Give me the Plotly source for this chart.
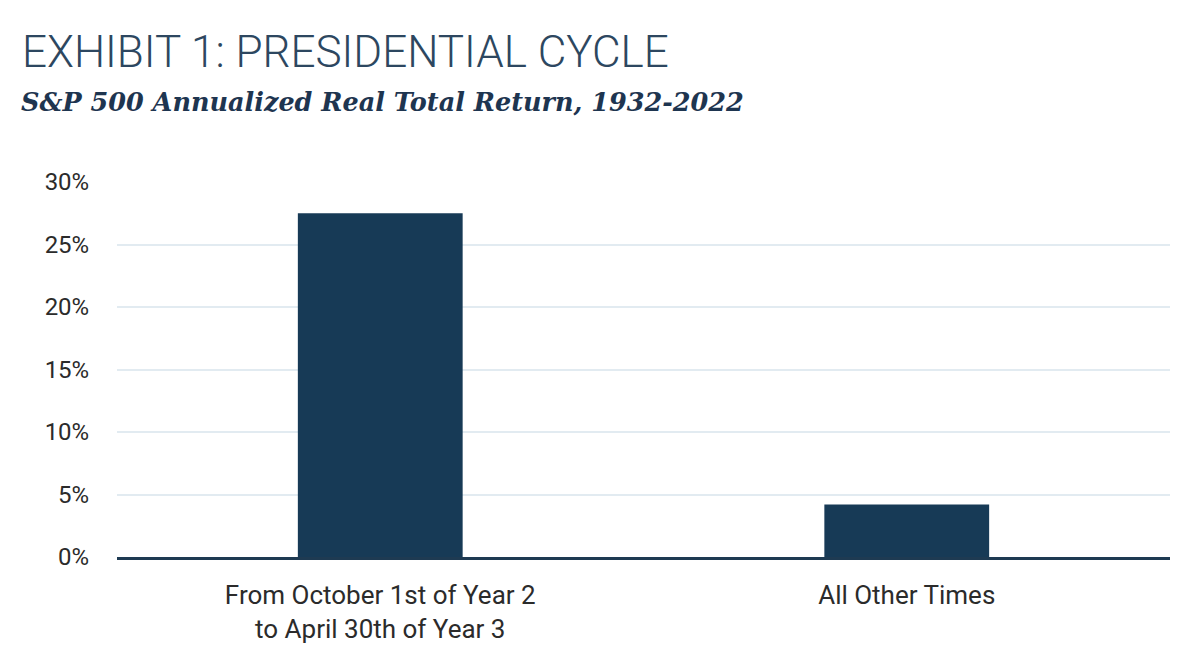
import plotly.graph_objects as go

categories = ["From October 1st of Year 2<br>to April 30th of Year 3", "All Other Times"]
returns_pct = [27.5, 4.2]
tick_values = [0, 5, 10, 15, 20, 25, 30]
tick_labels = ["0%", "5%", "10%", "15%", "20%", "25%", "30%"]

title_text = "EXHIBIT 1: PRESIDENTIAL CYCLE"
subtitle_text = "S&P 500 Annualized Real Total Return, 1932-2022"

bar_color = "#173a56"

fig = go.Figure(go.Bar(x=categories, y=returns_pct, marker=dict(color=bar_color, line=dict(width=0))))

fig.update_layout(
    width=1200, height=653,
    paper_bgcolor="white", plot_bgcolor="white",
    margin=dict(l=109, r=38, t=174, b=104),
    bargap=0.687,
    showlegend=False,
    font=dict(family="Roboto", color="#333333"),
)
fig.update_xaxes(
    showgrid=False, tickfont=dict(size=26, color="#2b2b2b"),
    showline=True, linecolor="#1e3a52", linewidth=2.5,
    ticks="outside", ticklen=13, tickcolor="rgba(0,0,0,0)",
)
fig.update_yaxes(
    range=[0, 30], tickvals=tick_values, ticktext=tick_labels,
    showgrid=True, gridcolor="#e2ebf1", gridwidth=1.5,
    zeroline=False, tickfont=dict(size=24, color="#2b2b2b"),
    ticks="outside", ticklen=22, tickcolor="rgba(0,0,0,0)",
)
fig.add_annotation(
    text=title_text, xref="paper", yref="paper", x=-0.092, y=1.0, yshift=130,
    xanchor="left", yanchor="middle", showarrow=False,
    font=dict(family="Roboto", size=44, color="#2d4760", weight=300),
)
fig.add_annotation(
    text=subtitle_text, xref="paper", yref="paper", x=-0.093, y=1.0, yshift=80,
    xanchor="left", yanchor="middle", showarrow=False,
    font=dict(family="DejaVu Serif", size=25.5, color="#1e3550", weight="bold", style="italic"),
)

fig.write_html("out.html")
